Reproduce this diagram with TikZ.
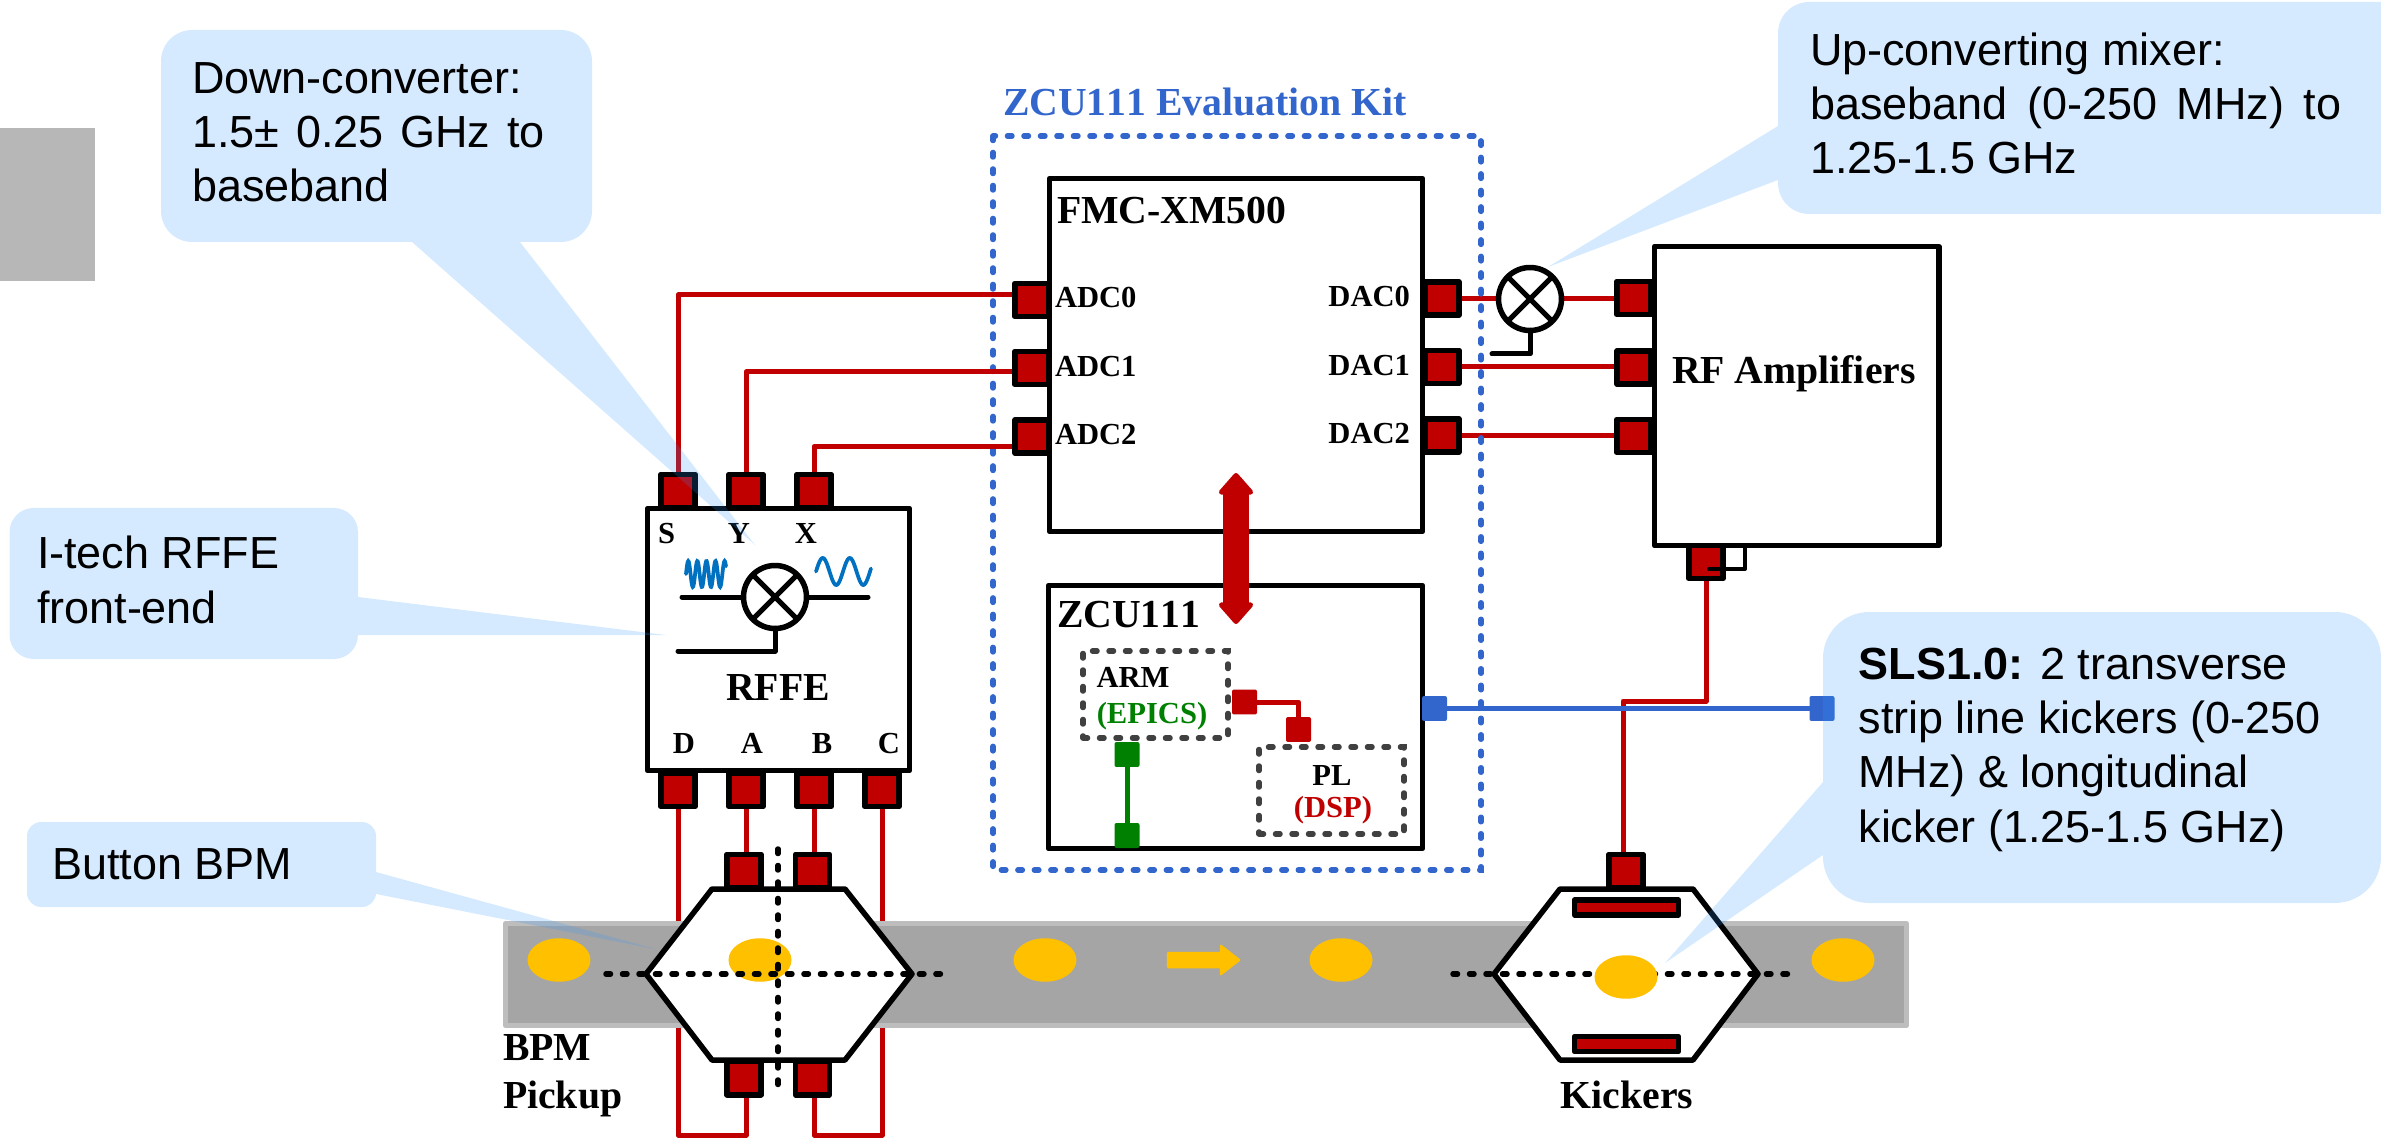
\documentclass[tikz,border=0pt]{standalone}
\usepackage{fontspec}
\setmainfont[Kerning=Off]{Liberation Serif}
\newfontfamily\callfont{Liberation Sans}
\usetikzlibrary{arrows.meta,calc,shapes.geometric}
\pgfdeclarelayer{wiresA}
\pgfdeclarelayer{wiresB}
\pgfsetlayers{wiresA,wiresB,main}
\definecolor{wirered}{HTML}{C00000}
\definecolor{kitblue}{HTML}{3366CC}
\definecolor{armgreen}{HTML}{008000}
\definecolor{beamyellow}{HTML}{FFC000}
\definecolor{wavecol}{HTML}{0070C0}
\definecolor{pipefill}{HTML}{A5A5A5}
\definecolor{pipeedge}{HTML}{BDBDBD}
\definecolor{dashgray}{HTML}{404040}
\definecolor{callblue}{HTML}{3296FF}
\definecolor{sidegray}{HTML}{B7B7B7}
\newcommand\bigbf{\fontsize{22.6}{26}\selectfont\bfseries}
\newcommand\midbf{\fontsize{17.4}{20.5}\selectfont\bfseries}
\newcommand\calltxt{\callfont\fontsize{25.6}{30.8}\selectfont}
% x1 y1 x2 y2 r, then tail snippets on right, bottom, left edges
\newcommand\callpath[8]{%
  \fill[callfill] ({#1+#5},#2) -- ({#3-#5},#2)
   .. controls ({#3-0.45*#5},#2) and (#3,{#2+0.45*#5}) .. (#3,{#2+#5}) #6 -- (#3,{#4-#5})
   .. controls (#3,{#4-0.45*#5}) and ({#3-0.45*#5},#4) .. ({#3-#5},#4) #7 -- ({#1+#5},#4)
   .. controls ({#1+0.45*#5},#4) and (#1,{#4-0.45*#5}) .. (#1,{#4-#5}) #8 -- (#1,{#2+#5})
   .. controls (#1,{#2+0.45*#5}) and ({#1+0.45*#5},#2) .. ({#1+#5},#2) -- cycle;}
\tikzset{
  callfill/.style={fill=callblue,fill opacity=0.2},
  lbl/.style={inner sep=0pt,outer sep=0pt,anchor=base west},
  lblc/.style={inner sep=0pt,outer sep=0pt,anchor=base},
  lble/.style={inner sep=0pt,outer sep=0pt,anchor=base east},
  callnote/.style={inner sep=0pt,outer sep=0pt,anchor=base west,align=left,font=\calltxt},
  boxed/.style={draw=black,fill=white,line width=0.11cm,rectangle,inner sep=0pt,outer sep=0pt,line join=round},
  port/.style={draw=black,fill=wirered,line width=0.11cm,rectangle,inner sep=0pt,outer sep=0pt,line join=round,minimum width=0.68cm,minimum height=0.67cm},
  plate/.style={draw=black,fill=wirered,line width=0.11cm,rectangle,inner sep=0pt,outer sep=0pt,line join=round,minimum width=2.08cm,minimum height=0.3cm},
  smallpad/.style={rectangle,rounded corners=0.04cm,inner sep=0pt,outer sep=0pt,minimum size=0.5cm},
  wire/.style={draw=wirered,line width=0.1cm,line join=round},
  mixer/.style={draw=black,fill=white,line width=0.11cm,circle,inner sep=0pt,outer sep=0pt,minimum size=1.26cm,
    path picture={\draw[line width=0.1cm] (path picture bounding box.north west)--(path picture bounding box.south east)
      (path picture bounding box.north east)--(path picture bounding box.south west);}},
  blackline/.style={draw=black,line width=0.1cm,line cap=round,line join=round},
  dotline/.style={line width=0.11cm,line cap=round,dash pattern=on 0.09cm off 0.24cm},
  bunch/.style={fill=beamyellow,draw=none,ellipse,minimum width=1.26cm,minimum height=0.87cm,inner sep=0pt},
  wave/.style={draw=wavecol,line width=0.075cm,line cap=round,smooth},
  hexa/.style={fill=white,draw=black,line width=0.11cm,line join=round},
}
\begin{document}
\begin{tikzpicture}[x=0.02cm,y=-0.02cm]
\useasboundingbox (0,0) rectangle (2381,1138);
\fill[sidegray] (0,128) rectangle (95,281);

% ports
\node[port] (pS) at (678,491) {};
\node[port] (pY) at (746,491) {};
\node[port] (pX) at (814,491) {};
\node[port] (pD) at (678,790) {};
\node[port] (pA) at (746,790) {};
\node[port] (pB) at (814,790) {};
\node[port] (pC) at (882,790) {};
\node[port] (padc0) at (1032,300) {};
\node[port] (padc1) at (1032,368) {};
\node[port] (padc2) at (1032,436.5) {};
\node[port] (pdac0) at (1442,298.5) {};
\node[port] (pdac1) at (1442,367) {};
\node[port] (pdac2) at (1442,435.5) {};
\node[port] (prf0) at (1634,298) {};
\node[port] (prf1) at (1634,367.5) {};
\node[port] (prf2) at (1634,436) {};
\node[port] (prfb) at (1706,562) {};
\node[port] (ptl) at (744,871) {};
\node[port] (ptr) at (812.5,871) {};
\node[port] (pbl) at (744,1078) {};
\node[port] (pbr) at (812.5,1078) {};
\node[port] (pkick) at (1626,871) {};
\node[mixer] (mixup) at (1530,299) {};

% output-side wires and kit outline lie lowest
\begin{pgfonlayer}{wiresA}
\draw[wire] (pdac0.east) -- (pdac0.east -| mixup.west);
\draw[wire] (mixup.east) -- (mixup.east -| prf0.west);
\draw[wire] (pdac1.east) -- (pdac1.east -| prf1.west);
\draw[wire] (pdac2.east) -- (pdac2.east -| prf2.west);
\draw[kitblue,dotline] (993,136) rectangle (1481,870);
\end{pgfonlayer}
\node[lbl,text=kitblue,font=\bigbf] (kitlabel) at (1003,116) {ZCU111 Evaluation Kit};

% wires from the RFFE
\begin{pgfonlayer}{wiresB}
\draw[wire] (pS.north) |- ([yshift=0.1cm]padc0.west);
\draw[wire] (pY.north) |- ([yshift=-0.08cm]padc1.west);
\draw[wire] (pX.north) |- ([yshift=-0.2cm]padc2.west);
\draw[wire] (pA.south) -- (pA.south |- ptl.north);
\draw[wire] (pB.south) -- (pB.south |- ptr.north);
\coordinate (lowA) at (746,1135);
\coordinate (lowB) at (814,1135);
\draw[wire] (pD.south) -- (pD.south |- lowA) -- (lowA) -- (lowA |- pbl.south);
\draw[wire] (pC.south) -- (pC.south |- lowB) -- (lowB) -- (lowB |- pbr.south);
\coordinate (kickBend) at (1623,701);
\draw[wire] (prfb.south) |- (kickBend) -- (kickBend |- pkick.north);
\end{pgfonlayer}

% boxes
\node[boxed,minimum width=5.24cm,minimum height=5.24cm] (rffe) at (778.5,639.5) {};
\node[boxed,minimum width=7.46cm,minimum height=7.06cm] (fmc) at (1236,355) {};
\node[boxed,minimum width=7.48cm,minimum height=5.26cm] (zcu) at (1235.5,717) {};
\node[boxed,minimum width=5.69cm,minimum height=5.98cm] (rfamp) at (1796.75,396) {};

% big link FMC to ZCU
\coordinate (linkTop) at (1236,473);
\coordinate (linkBot) at (1236,624);
\draw[wirered,line width=0.52cm,{Triangle[round,length=0.46cm,width=0.78cm,line width=0.1cm]}-{Triangle[round,length=0.46cm,width=0.78cm,line width=0.1cm]}] (linkTop) -- (linkBot);

% RFFE inside
\node[lbl,font=\midbf] (tS) at (658,543) {S};
\node[lblc,font=\midbf] (tY) at (739,543) {Y};
\node[lblc,font=\midbf] (tX) at (806,543) {X};
\node[mixer] (mixdown) at (775,597) {};
\coordinate (mixIn) at (682,597);
\coordinate (mixOut) at (868,597);
\coordinate (mixLo) at (678,651);
\draw[blackline] (mixIn) -- (mixdown.west);
\draw[blackline] (mixdown.east) -- (mixOut);
\draw[blackline] (mixdown.south) |- (mixLo);
\draw[wave] plot[domain=0:1,samples=90] ({686+40*\x},{574-13*sin(1584*\x)});
\draw[wave] plot[domain=0:1,samples=60] ({816+55*\x},{571.5-13.5*sin(733*\x)});
\node[lblc,font=\bigbf] (tRFFE) at (778,700) {RFFE};
\node[lblc,font=\midbf] (tD) at (684,753) {D};
\node[lblc,font=\midbf] (tA) at (752,753) {A};
\node[lblc,font=\midbf] (tB) at (822,753) {B};
\node[lblc,font=\midbf] (tC) at (889,753) {C};

% FMC labels
\node[lbl,font=\bigbf] (tfmc) at (1057,224) {FMC-XM500};
\node[lbl,font=\midbf] (ta0) at (1055,308) {ADC0};
\node[lbl,font=\midbf] (ta1) at (1055,377) {ADC1};
\node[lbl,font=\midbf] (ta2) at (1055,445) {ADC2};
\node[lble,font=\midbf] (td0) at (1410,307) {DAC0};
\node[lble,font=\midbf] (td1) at (1410,376) {DAC1};
\node[lble,font=\midbf] (td2) at (1410,444) {DAC2};

% up-mixer LO
\coordinate (upLo) at (1492,354);
\draw[blackline] (mixup.south) |- (upLo);

% RF amplifiers
\node[lbl,font=\bigbf] (trf) at (1672,384) {RF Amplifiers};
\coordinate (amA) at (1745,547);
\coordinate (amB) at (1709,569);
\draw[blackline,line width=0.08cm] (amA) |- (amB);

% ZCU111 inside
\node[lbl,font=\bigbf] (tzcu) at (1057,627) {ZCU111};
\node[draw=dashgray,dotline,rectangle,inner sep=0pt,outer sep=0pt,minimum width=2.9cm,minimum height=1.74cm] (arm) at (1155.5,694.5) {};
\node[draw=dashgray,dotline,rectangle,inner sep=0pt,outer sep=0pt,minimum width=2.9cm,minimum height=1.74cm] (pl) at (1331.5,790.5) {};
\node[lblc,font=\midbf] (tarm) at (1133,687) {ARM};
\node[lblc,font=\midbf,text=armgreen] (tepics) at (1152,723) {(EPICS)};
\node[lblc,font=\midbf] (tpl) at (1332,785) {PL};
\node[lblc,font=\midbf,text=wirered] (tdsp) at (1333,817) {(DSP)};
\node[smallpad,fill=wirered] (padA) at (1244.5,702) {};
\node[smallpad,fill=wirered] (padB) at (1298.5,729.5) {};
\draw[wirered,line width=0.1cm,line join=round] (padA.east) -| (padB.north);
\node[smallpad,fill=armgreen] (padC) at (1127,754.5) {};
\node[smallpad,fill=armgreen] (padD) at (1127,835.5) {};
\draw[armgreen,line width=0.1cm] (padC.south) -- (padD.north);

% blue link
\node[smallpad,fill=kitblue] (padE) at (1434.5,708.5) {};
\node[smallpad,fill=kitblue] (padF) at (1822,708.5) {};
\draw[kitblue,line width=0.1cm] (padE.east) -- (padF.west);

% beam pipe
\draw[fill=pipefill,draw=pipeedge,line width=0.1cm,line join=round] (505.5,923.5) rectangle (1906.5,1025.5);
\node[bunch] (b1) at (559,960) {};
\node[bunch] (b3) at (1045,960) {};
\node[bunch] (b4) at (1341,960) {};
\node[bunch] (b6) at (1843,960) {};
\fill[beamyellow,draw=beamyellow,line width=0.05cm,line join=round] (1168,953) -- (1221,953) -- (1221,946) -- (1239,960) -- (1221,974) -- (1221,967) -- (1168,967) -- cycle;

% pickup
\draw[hexa] (646,974) -- (712,889) -- (845,889) -- (912,974) -- (845,1060) -- (712,1060) -- cycle;
\node[bunch] (b2) at (760,960) {};
\coordinate (hL) at (606,974);
\coordinate (hR) at (945,974);
\coordinate (vT) at (778,849);
\coordinate (vB) at (778,1088);
\draw[dotline] (hL) -- (hR);
\draw[dotline] (vT) -- (vB);
\node[lbl,font=\bigbf] (tbpm) at (503,1060) {BPM};
\node[lbl,font=\bigbf] (tpick) at (503,1108) {Pickup};

% kicker
\draw[hexa] (1494,974) -- (1560,889) -- (1693,889) -- (1758,974) -- (1693,1060) -- (1560,1060) -- cycle;
\coordinate (kL) at (1453,974);
\coordinate (kR) at (1793,974);
\draw[dotline] (kL) -- (kR);
\node[bunch] (b5) at (1626,977) {};
\node[plate] (plateT) at (1626.5,907.5) {};
\node[plate] (plateB) at (1626.5,1044) {};
\node[lblc,font=\bigbf] (tkick) at (1627,1108) {Kickers};

% callouts
\callpath{161}{30}{592}{242}{31}{}{-- (520,242) -- (755,545) -- (412,242)}{}
\node[callnote] (cDown) at (192,202) {Down-converter:\\1.5±\hspace{2.5pt} 0.25\hspace{2.5pt} GHz\hspace{2.5pt} to\\baseband};
\callpath{1778}{2}{2430}{214}{31}{}{}{-- (1778,180) -- (1548,267) -- (1778,126)}
\node[callnote] (cUp) at (1810,174) {Up-converting mixer:\\baseband\hspace{4pt} (0-250\hspace{4pt} MHz)\hspace{4pt} to\\1.25-1.5 GHz};
\callpath{9.5}{508}{358}{659}{24}{-- (358,597) -- (666,635) -- (358,635)}{}{}
\node[callnote] (cItech) at (37,623) {I-tech RFFE\\front-end};
\callpath{27}{822}{376}{907}{14}{-- (376,872) -- (657,949.5) -- (376,894)}{}{}
\node[callnote] (cBtn) at (52,879) {Button BPM};
\callpath{1823}{612}{2381}{903}{46}{}{}{-- (1823,855) -- (1665,963) -- (1823,782)}
\node[callnote] (cSls) at (1858.5,842) {\textbf{SLS1.0:} 2 transverse\\strip line kickers (0-250\\MHz) \& longitudinal\\kicker (1.25-1.5 GHz)};
\end{tikzpicture}
\end{document}
